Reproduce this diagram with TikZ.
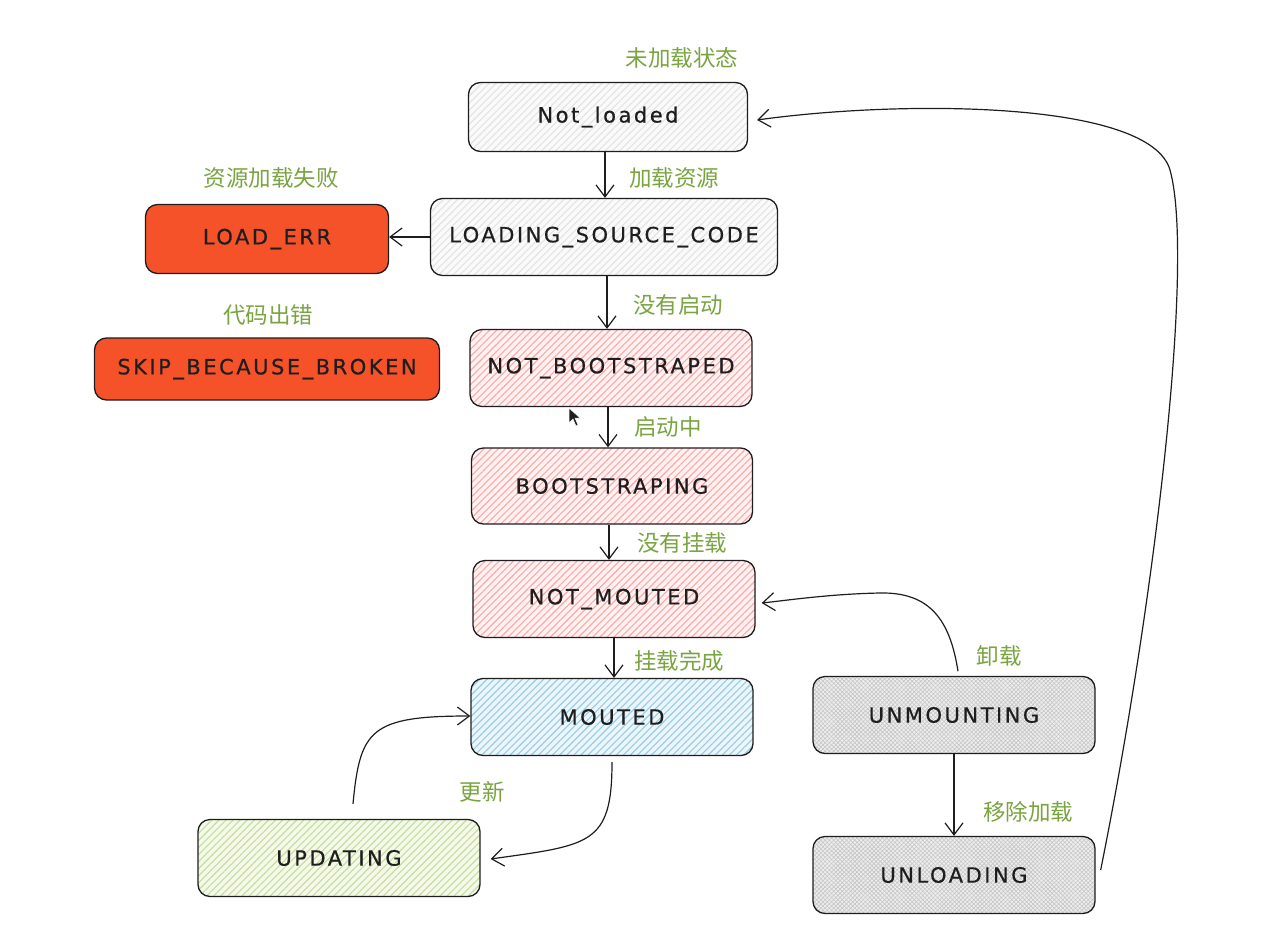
\documentclass[tikz,border=0pt]{standalone}
\usepackage{fontspec}
\usetikzlibrary{arrows.meta,patterns.meta}
\newfontfamily\handfont[LetterSpace=12,FakeBold=0.6]{DejaVu Sans}
\newfontfamily\cjkfont{Noto Sans CJK SC}
\definecolor{ink}{RGB}{30,30,30}
\definecolor{notegreen}{RGB}{122,164,66}
\definecolor{errred}{RGB}{245,82,42}
\definecolor{bluebg}{RGB}{236,246,250}
\definecolor{blueline}{RGB}{150,205,228}
\definecolor{greenbg}{RGB}{244,249,234}
\definecolor{greenline}{RGB}{196,222,158}
\tikzset{
  state/.style={draw=ink, line width=1.3pt, rounded corners=12pt, inner sep=0pt,
    text=ink, font=\handfont\fontsize{21}{21}\selectfont},
  hatch/.style 2 args={preaction={fill=#1},
    pattern={Lines[angle=45,distance=5pt,line width=1.1pt]}, pattern color=#2},
  cross/.style 2 args={preaction={fill=#1},
    pattern={Hatch[angle=45,distance=3pt,line width=0.6pt]}, pattern color=#2},
  note/.style={inner sep=0pt, text=notegreen, font=\cjkfont\fontsize{22.5}{22.5}\selectfont},
  flow/.style={draw=ink, line width=1.2pt,
    -{Straight Barb[length=12pt,width=18pt,line width=1.2pt]}},
}
\begin{document}
\begin{tikzpicture}[x=1pt,y=-1pt]
\path[use as bounding box, fill=white] (0,0) rectangle (1286,940);

% states
\node[state, hatch={gray!4}{gray!22}, minimum width=279pt, minimum height=69pt] (nl) at (608,117) {Not\_loaded};
\node[state, hatch={gray!4}{gray!22}, minimum width=347pt, minimum height=77pt] (lsc) at (604,237) {LOADING\_SOURCE\_CODE};
\node[state, fill=errred, minimum width=243pt, minimum height=69pt] (le) at (267,239) {LOAD\_ERR};
\node[state, fill=errred, minimum width=345pt, minimum height=62pt] (sbb) at (267,369) {SKIP\_BECAUSE\_BROKEN};
\node[state, hatch={red!5}{red!35}, minimum width=282pt, minimum height=77pt] (nb) at (611,368) {NOT\_BOOTSTRAPED};
\node[state, hatch={red!5}{red!35}, minimum width=281pt, minimum height=76pt] (bs) at (612,486) {BOOTSTRAPING};
\node[state, hatch={red!5}{red!35}, minimum width=282pt, minimum height=77pt] (nm) at (614,599) {NOT\_MOUTED};
\node[state, hatch={bluebg}{blueline}, minimum width=282pt, minimum height=77pt] (mo) at (612,717) {MOUTED};
\node[state, hatch={greenbg}{greenline}, minimum width=282pt, minimum height=77pt] (up) at (339,858) {UPDATING};
\node[state, cross={gray!14}{gray!45}, minimum width=282pt, minimum height=77pt] (um) at (954,715) {UNMOUNTING};
\node[state, cross={gray!14}{gray!45}, minimum width=282pt, minimum height=77pt] (ul) at (954,875) {UNLOADING};

% notes
\node[note] (n1) at (682,58) {未加载状态};
\node[note] (n2) at (674,178) {加载资源};
\node[note] (n3) at (271,178) {资源加载失败};
\node[note] (n4) at (268,315) {代码出错};
\node[note] (n5) at (678,305) {没有启动};
\node[note] (n6) at (668,427) {启动中};
\node[note] (n7) at (682,543) {没有挂载};
\node[note] (n8) at (679,661) {挂载完成};
\node[note] (n9) at (999,656) {卸载};
\node[note] (n10) at (482,792) {更新};
\node[note] (n11) at (1028,812) {移除加载};

% transitions
\draw[flow] ([xshift=-3pt]nl.south) -- ([xshift=-3pt]nl.south |- lsc.north);
\draw[flow] (lsc.west) -- (lsc.west -| le.east);
\draw[flow] ([xshift=3pt]lsc.south) -- ([xshift=3pt]lsc.south |- nb.north);
\draw[flow] ([xshift=-3pt]nb.south) -- ([xshift=-3pt]nb.south |- bs.north);
\draw[flow] ([xshift=-3pt]bs.south) -- ([xshift=-3pt]bs.south |- nm.north);
\draw[flow] (nm.south) -- (nm.south |- mo.north);
\draw[flow] (um.south) -- (um.south |- ul.north);
\draw[flow] ([xshift=4pt,yshift=5pt]um.north) .. controls (950,620) and (930,592) .. (880,593)
  .. controls (830,594) and (790,600) .. ([xshift=6pt,yshift=-4pt]nm.east);
\draw[flow] ([xshift=5pt,yshift=5pt]ul.east) .. controls (1155,600) and (1195,260) .. (1170,170)
  .. controls (1150,100) and (900,100) .. ([xshift=9pt,yshift=-3pt]nl.east);
\draw[flow] ([yshift=-6pt]mo.south) .. controls (612,845) and (590,845) .. ([xshift=10pt,yshift=-1pt]up.east);
\draw[flow] ([xshift=14pt,yshift=15pt]up.north) .. controls (360,730) and (370,716) .. ([yshift=1pt]mo.west);

% mouse pointer
\node[inner sep=0pt] (cur) at (572,416) {};
\draw[fill=ink, draw=white, line width=0.5pt] (cur.center) ++(-3,-8) -- ++(0,15) -- ++(4,-4) -- ++(3,7) -- ++(2,-1) -- ++(-3,-7) -- ++(5,0) -- cycle;
\end{tikzpicture}
\end{document}
